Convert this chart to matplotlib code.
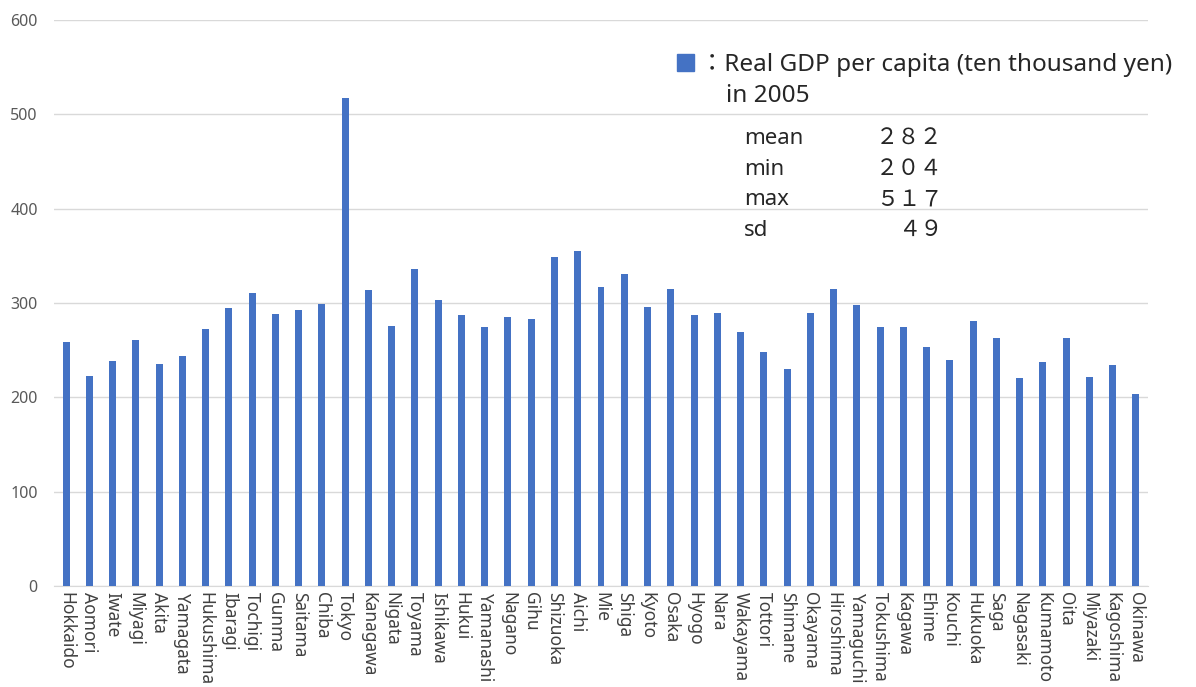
import matplotlib.pyplot as plt
from matplotlib.patches import Rectangle

plt.rcParams['font.family'] = ['Noto Sans', 'Noto Sans CJK JP', 'DejaVu Sans']

prefectures = [
    "Hokkaido", "Aomori", "Iwate", "Miyagi", "Akita", "Yamagata", "Hukushima",
    "Ibaragi", "Tochigi", "Gunma", "Saitama", "Chiba", "Tokyo", "Kanagawa",
    "Nigata", "Toyama", "Ishikawa", "Hukui", "Yamanashi", "Nagano", "Gihu",
    "Shizuoka", "Aichi", "Mie", "Shiga", "Kyoto", "Osaka", "Hyogo", "Nara",
    "Wakayama", "Tottori", "Shimane", "Okayama", "Hiroshima", "Yamaguchi",
    "Tokushima", "Kagawa", "Ehime", "Kouchi", "Hukuoka", "Saga", "Nagasaki",
    "Kumamoto", "Oita", "Miyazaki", "Kagoshima", "Okinawa",
]
gdp_2005 = [
    259, 223, 239, 261, 235, 244, 272, 295, 311, 288, 293, 299, 517, 314,
    276, 336, 303, 287, 275, 285, 283, 349, 355, 317, 331, 296, 315, 287,
    289, 269, 248, 230, 289, 315, 298, 275, 274, 253, 240, 281, 263, 221,
    237, 263, 222, 234, 204,
]
stat_names = ["mean", "min", "max", "sd"]
stat_values = ["２８２", "２０４", "５１７", "４９"]
y_ticks = [0, 100, 200, 300, 400, 500, 600]

fig = plt.figure(figsize=(11.96, 6.87), dpi=100)
ax = fig.add_axes([0.0455, 0.147, 0.914, 0.824])

x = range(len(prefectures))
ax.bar(x, gdp_2005, width=0.3, color="#4472C4", zorder=3)

ax.set_xlim(-0.5, len(prefectures) - 0.5)
ax.set_ylim(0, 600)
ax.set_yticks(y_ticks)
ax.set_xticks(list(x))
ax.set_xticklabels(prefectures, rotation=270, fontsize=12.5, color="#404040")
ax.tick_params(axis="y", labelsize=11.5, labelcolor="#595959", length=0, pad=12)
ax.tick_params(axis="x", length=0, pad=4)
ax.grid(axis="y", color="#D9D9D9", linewidth=1, zorder=0)
for side in ["top", "right", "left"]:
    ax.spines[side].set_visible(False)
ax.spines["bottom"].set_color("#D9D9D9")

# note in the upper right, drawn like a legend
fig.patches.append(Rectangle((0.566, 0.897), 0.014, 0.025, transform=fig.transFigure,
                             color="#4472C4"))
fig.text(0.585, 0.906, "：Real GDP per capita (ten thousand yen)", fontsize=17.5,
         color="#262626", va="center")
fig.text(0.607, 0.860, "in 2005", fontsize=17.5, color="#262626", va="center")

for i, (name, val) in enumerate(zip(stat_names, stat_values)):
    yy = 0.798 - i * 0.0445
    fig.text(0.622, yy, name, fontsize=16, color="#262626", va="center")
    fig.text(0.788, yy, val, fontsize=16, color="#262626", va="center", ha="right")

fig.savefig("out.png", dpi=100)
